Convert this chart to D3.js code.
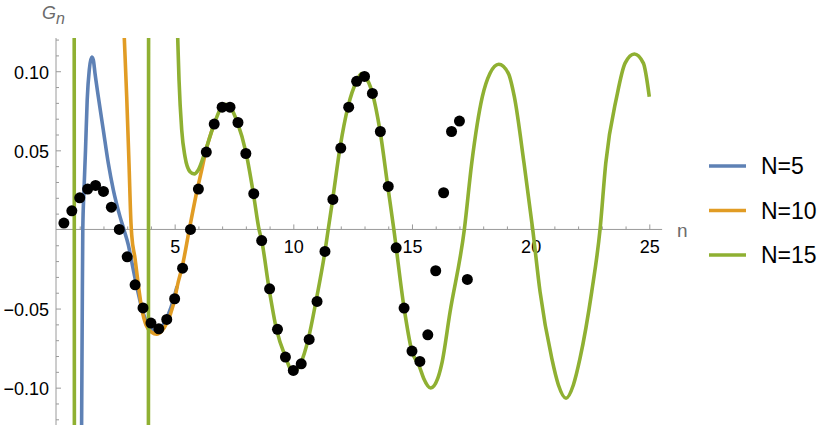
<!DOCTYPE html>
<html><head><meta charset="utf-8">
<script src="https://cdn.jsdelivr.net/npm/d3@7"></script>
<style>
body{margin:0;background:#fff;}
svg{display:block;font-family:"Liberation Sans",Arial,sans-serif;}
</style></head><body>
<svg id="c" width="830" height="425"></svg>
<script>
// ---------- data ----------
const xTicksMajor = [5, 10, 15, 20, 25];
const xTicksMinor = [1,2,3,4,6,7,8,9,11,12,13,14,16,17,18,19,21,22,23,24];
const yTicksMajor = [-0.10, -0.05, 0.05, 0.10];
const yTickLabels = ["\u22120.10", "\u22120.05", "0.05", "0.10"];
const yTicksMinor = [-0.12,-0.11,-0.09,-0.08,-0.07,-0.06,-0.04,-0.03,-0.02,-0.01,0.01,0.02,0.03,0.04,0.06,0.07,0.08,0.09,0.11,0.12];

const seriesNames = ["N=5", "N=10", "N=15"];
const seriesColors = ["#5E81B5", "#E19C24", "#8FB032"];

const dotN = [0.333,0.667,1.000,1.333,1.667,2.000,2.333,2.667,3.000,3.333,3.667,4.000,4.333,4.667,5.000,5.333,5.667,6.000,6.333,6.667,7.000,7.333,7.667,8.000,8.333,8.667,9.000,9.333,9.667,10.000,10.333,10.667,11.000,11.333,11.667,12.000,12.333,12.667,13.000,13.333,13.667,14.000,14.333,14.667,15.000,15.333,15.667,16.000,16.333,16.667,17.000,17.333];
const dotG = [0.0040,0.0118,0.0200,0.0255,0.0278,0.0240,0.0141,0.0000,-0.0173,-0.0350,-0.0496,-0.0592,-0.0628,-0.0569,-0.0438,-0.0245,0.0000,0.0255,0.0489,0.0666,0.0773,0.0773,0.0676,0.0480,0.0226,-0.0070,-0.0375,-0.0631,-0.0807,-0.0891,-0.0849,-0.0695,-0.0455,-0.0139,0.0190,0.0514,0.0773,0.0936,0.0967,0.0860,0.0619,0.0272,-0.0116,-0.0497,-0.0769,-0.0834,-0.0666,-0.0261,0.0232,0.0619,0.0685,-0.0316];

const blueN = [1.066,1.079,1.104,1.129,1.180,1.243,1.315,1.403,1.504,1.572,1.643,1.783,1.993,2.204,2.415,2.697,2.866,3.047,3.190,3.329,3.498,3.654,3.847,4.100,4.350,4.600,4.850,5.100];
const blueG = [-0.146,-0.1236,-0.0572,0.000,0.025,0.050,0.082,0.101,0.1089,0.1071,0.0987,0.0839,0.0629,0.0418,0.0250,0.0081,-0.0003,-0.0098,-0.0204,-0.0308,-0.0425,-0.0520,-0.0593,-0.0638,-0.0632,-0.0580,-0.0490,-0.0360];

const orangeN = [2.770,2.878,2.979,3.076,3.160,3.190,3.329,3.469,3.612,3.793,4.033,4.244,4.454,4.665,4.943,5.154,5.310,5.630,5.954,6.140,6.308,6.671];
const orangeG = [0.160,0.1209,0.0839,0.0418,0.0039,-0.0035,-0.0182,-0.0351,-0.0498,-0.0604,-0.0650,-0.0662,-0.0642,-0.0593,-0.0477,-0.0330,-0.0241,0.001,0.0254,0.0376,0.0492,0.0669];

const greenN = [0.500,0.765,0.777,3.892,3.904,5.050,5.129,5.184,5.297,5.436,5.647,5.828,5.996,6.308,6.671,6.983,7.151,7.333,7.640,8.007,8.314,8.555,8.668,8.976,9.284,9.663,9.990,10.312,10.632,10.957,11.336,11.470,11.661,11.968,12.305,12.672,12.870,13.009,13.329,13.654,13.978,14.236,14.665,14.990,15.310,15.490,15.790,16.090,16.254,16.604,17.206,17.517,17.965,18.289,18.656,19.060,19.313,19.722,20.088,20.396,20.889,21.170,21.492,21.800,22.082,22.575,22.925,23.165,23.628,23.980,24.370,24.750,25.000];
const greenG = [0.160,0.160,-0.160,-0.160,0.160,0.160,0.1209,0.0945,0.0629,0.0460,0.0365,0.0351,0.0376,0.0503,0.0669,0.0776,0.0791,0.0776,0.0678,0.0485,0.0229,0.000,-0.0071,-0.0372,-0.0627,-0.0804,-0.0900,-0.0846,-0.0692,-0.0452,-0.0136,0.000,0.0193,0.0517,0.0776,0.0939,0.0985,0.0970,0.0863,0.0623,0.0275,0.000,-0.0494,-0.0766,-0.0865,-0.0940,-0.1002,-0.0940,-0.0850,-0.0522,0.000,0.0418,0.0839,0.0987,0.1044,0.0987,0.0839,0.0418,0.000,-0.0393,-0.0814,-0.0983,-0.1067,-0.0983,-0.0814,-0.0393,0.000,0.0418,0.0839,0.1051,0.1109,0.1051,0.0838];

const xAxisMax = 25.54;
const yTop = 0.121, yBottom = -0.1236;

// ---------- chart ----------
const svg = d3.select("#c");
const x = d3.scaleLinear().domain([0, 25]).range([56, 649.3]);
const y = d3.scaleLinear().domain([yBottom, yTop]).range([425, 38]);
const axisColor = "#9a9a9a";

svg.append("defs").append("clipPath").attr("id","clip")
  .append("rect").attr("x", x(0)).attr("y", y(yTop))
  .attr("width", x(xAxisMax) - x(0)).attr("height", y(yBottom) - y(yTop));

// axes lines
svg.append("line").attr("x1", x(0)).attr("x2", x(xAxisMax)).attr("y1", y(0)).attr("y2", y(0))
  .attr("stroke", axisColor).attr("stroke-width", 1);
svg.append("line").attr("x1", x(0)).attr("x2", x(0)).attr("y1", y(yTop)).attr("y2", y(yBottom))
  .attr("stroke", axisColor).attr("stroke-width", 1);

function styleAxis(g){
  g.select(".domain").remove();
  g.selectAll(".tick line").attr("stroke", axisColor);
  g.selectAll(".tick text").attr("fill", "#000").attr("font-size", 18)
    .attr("font-family", "'Liberation Sans',Arial,sans-serif");
}

// x axis
svg.append("g").attr("transform", `translate(0,${y(0)})`)
  .call(d3.axisBottom(x).tickValues(xTicksMinor).tickSize(-3).tickFormat(""))
  .call(styleAxis);
svg.append("g").attr("transform", `translate(0,${y(0)})`)
  .call(d3.axisBottom(x).tickValues(xTicksMajor).tickSize(-5).tickPadding(11).tickFormat(d3.format("d")))
  .call(styleAxis);

// y axis
svg.append("g").attr("transform", `translate(${x(0)},0)`)
  .call(d3.axisLeft(y).tickValues(yTicksMinor).tickSize(-3).tickFormat(""))
  .call(styleAxis);
svg.append("g").attr("transform", `translate(${x(0)},0)`)
  .call(d3.axisLeft(y).tickValues(yTicksMajor).tickSize(-5).tickPadding(7)
    .tickFormat((d,i) => yTickLabels[i]))
  .call(styleAxis)
  .selectAll(".tick text").attr("dy", "0.38em");

// axis labels
const gl = svg.append("text").attr("x", 42).attr("y", 18.5).attr("fill", "#6b6b6b")
  .attr("font-size", 18).attr("font-style", "italic");
gl.append("tspan").text("G");
gl.append("tspan").attr("font-size", 16).attr("dy", 5).text("n");
svg.append("text").attr("x", 677).attr("y", 237).attr("fill", "#6b6b6b")
  .attr("font-size", 19).text("n");

// curves
const curves = [
  blueN.map((n,i)=>[n, blueG[i]]),
  orangeN.map((n,i)=>[n, orangeG[i]]),
  greenN.map((n,i)=>[n, greenG[i]])
];
const line = d3.line().x(d=>x(d[0])).y(d=>y(d[1])).curve(d3.curveMonotoneX);
const plot = svg.append("g").attr("clip-path", "url(#clip)");
curves.forEach((c,i)=>{
  plot.append("path").datum(c).attr("d", line).attr("fill","none")
    .attr("stroke", seriesColors[i]).attr("stroke-width", 3.6)
    .attr("stroke-linejoin","round");
});

// dots
svg.append("g").selectAll("circle").data(dotN.map((n,i)=>[n, dotG[i]])).join("circle")
  .attr("cx", d=>x(d[0])).attr("cy", d=>y(d[1])).attr("r", 5.5).attr("fill", "#000");

// legend
const leg = svg.append("g");
seriesNames.forEach((name,i)=>{
  const ly = 166 + i*44.5;
  leg.append("line").attr("x1", 709).attr("x2", 746).attr("y1", ly).attr("y2", ly)
    .attr("stroke", seriesColors[i]).attr("stroke-width", 3.6);
  leg.append("text").attr("x", 761).attr("y", ly + 8).attr("font-size", 23).attr("fill","#000").text(name);
});
</script>
</body></html>
